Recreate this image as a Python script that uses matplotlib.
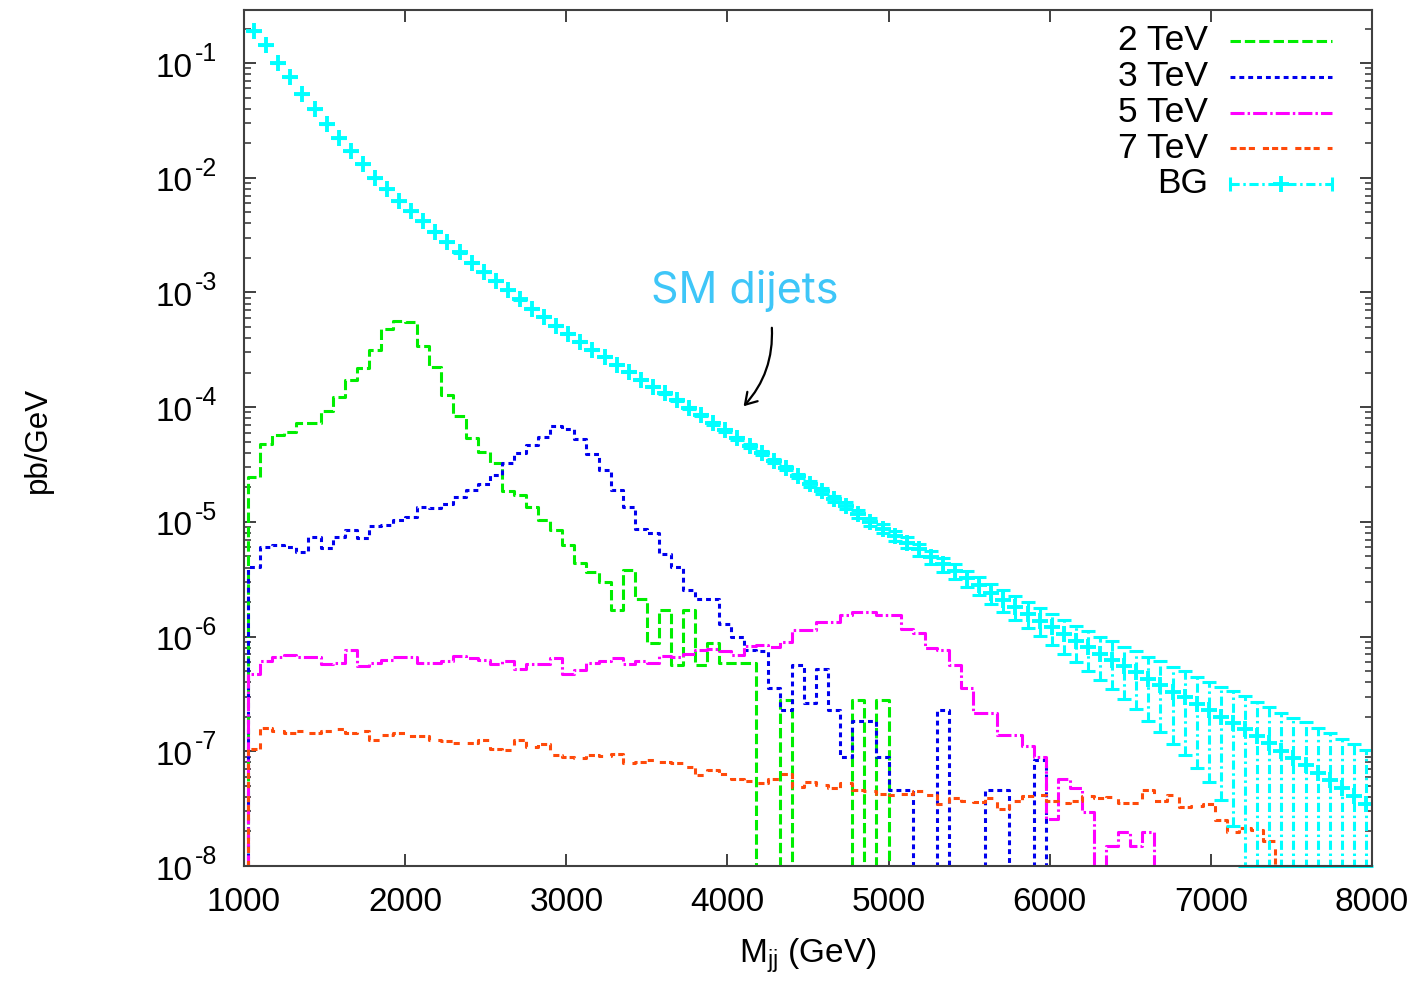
"""Dijet invariant-mass spectra: resonance signals vs. SM QCD background."""

import matplotlib

matplotlib.use("Agg")

import matplotlib.pyplot as plt
import matplotlib.transforms as mtransforms
import numpy as np
from matplotlib.patches import FancyArrowPatch
from matplotlib.ticker import NullFormatter, NullLocator

W, H = 1428, 981

C_GREEN = "#00ee00"
C_BLUE = "#0000ee"
C_MAGENTA = "#ff00ff"
C_ORANGE = "#ff4a0a"
C_CYAN = "#00ffff"
C_NOTE = "#3ec6f8"
C_AXIS = "#404040"

# bin edges of the Mjj histograms (GeV)
EDGES = np.arange(1025, 8001, 75)
X_TICKS = np.arange(1000, 8001, 1000)
Y_DECADES = np.arange(-8, 0)

# log10(pb/GeV) per bin, None = empty bin
SIG_2TEV = [
    -4.61, -4.32, -4.24, -4.22, -4.14, -4.14, -4.03, -3.91, -3.76, -3.66,
    -3.50, -3.32, -3.25, -3.26, -3.47, -3.65, -3.89, -4.08, -4.27, -4.39,
    -4.49, -4.73, -4.77, -4.87, -4.98, -5.07, -5.20, -5.36, -5.44, -5.52,
    -5.77, -5.42, -5.67, -6.06, -5.77, -6.25, -5.77, -6.25, -6.06, -6.23,
    -6.23, -6.23, None, None, -6.55, None, None, None, None, None,
    -6.55, None, -6.55, None, None, None, None, None, None, None,
    None, None, None, None, None, None, None, None, None, None,
    None, None, None, None, None, None, None, None, None, None,
    None, None, None, None, None, None, None, None, None, None,
    None, None, None,
]
SIG_3TEV = [
    -5.39, -5.22, -5.20, -5.22, -5.26, -5.13, -5.23, -5.13, -5.07, -5.14,
    -5.04, -5.03, -4.98, -4.96, -4.87, -4.88, -4.84, -4.78, -4.72, -4.67,
    -4.59, -4.49, -4.40, -4.33, -4.26, -4.16, -4.19, -4.28, -4.41, -4.55,
    -4.72, -4.87, -5.06, -5.10, -5.28, -5.39, -5.59, -5.67, -5.67, -5.89,
    -6.00, -6.12, -6.13, -6.45, -6.64, -6.25, -6.58, -6.28, -6.64, -7.05,
    -6.74, -6.74, -7.05, -7.34, -7.34, None, None, -6.64, None, None,
    None, -7.34, -7.34, None, None, -7.08, None, None, None, None,
    None, None, None, None, None, None, None, None, None, None,
    None, None, None, None, None, None, None, None, None, None,
    None, None, None,
]
SIG_5TEV = [
    -6.33, -6.21, -6.18, -6.16, -6.18, -6.18, -6.24, -6.23, -6.12, -6.26,
    -6.23, -6.20, -6.18, -6.18, -6.23, -6.23, -6.21, -6.17, -6.19, -6.20,
    -6.24, -6.21, -6.28, -6.24, -6.24, -6.19, -6.33, -6.29, -6.23, -6.21,
    -6.19, -6.24, -6.21, -6.23, -6.17, -6.18, -6.15, -6.12, -6.11, -6.13,
    -6.16, -6.08, -6.07, -6.09, -6.05, -5.94, -5.94, -5.87, -5.87, -5.81,
    -5.79, -5.79, -5.81, -5.81, -5.93, -5.97, -6.10, -6.12, -6.25, -6.45,
    -6.67, -6.67, -6.86, -6.86, -6.95, -7.05, -7.59, -7.24, -7.32, -7.53,
    None, -7.83, -7.70, -7.83, -7.70, None, None, None, None, None,
    None, None, None, None, None, None, None, None, None, None,
    None, None, None,
]
SIG_7TEV = [
    -6.98, -6.80, -6.82, -6.84, -6.82, -6.84, -6.82, -6.81, -6.84, -6.82,
    -6.90, -6.86, -6.84, -6.87, -6.87, -6.90, -6.91, -6.93, -6.93, -6.90,
    -6.98, -6.99, -6.90, -6.96, -6.94, -7.03, -7.05, -7.06, -7.03, -7.04,
    -7.02, -7.10, -7.09, -7.08, -7.09, -7.10, -7.14, -7.21, -7.16, -7.20,
    -7.24, -7.26, -7.28, -7.24, -7.20, -7.31, -7.27, -7.29, -7.32, -7.28,
    -7.34, -7.35, -7.37, -7.38, -7.37, -7.35, -7.38, -7.46, -7.41, -7.43,
    -7.44, -7.41, -7.50, -7.43, -7.39, -7.38, -7.43, -7.45, -7.43, -7.39,
    -7.41, -7.40, -7.45, -7.45, -7.34, -7.43, -7.38, -7.49, -7.48, -7.46,
    -7.60, -7.70, -7.67, -7.69, -7.78, None, None, None, None, None,
    None, None, None,
]
BG_LOG10 = [
    -0.72, -0.84, -1.00, -1.12, -1.27, -1.40, -1.53, -1.65, -1.77, -1.88,
    -2.00, -2.10, -2.20, -2.29, -2.38, -2.47, -2.56, -2.65, -2.74, -2.82,
    -2.90, -2.98, -3.06, -3.14, -3.21, -3.29, -3.36, -3.43, -3.50, -3.56,
    -3.63, -3.69, -3.76, -3.82, -3.88, -3.94, -4.01, -4.07, -4.14, -4.20,
    -4.27, -4.34, -4.40, -4.47, -4.53, -4.60, -4.67, -4.73, -4.80, -4.86,
    -4.93, -5.00, -5.06, -5.12, -5.18, -5.24, -5.31, -5.37, -5.43, -5.49,
    -5.55, -5.62, -5.68, -5.74, -5.80, -5.86, -5.92, -5.98, -6.04, -6.09,
    -6.15, -6.20, -6.26, -6.31, -6.37, -6.42, -6.48, -6.53, -6.59, -6.64,
    -6.70, -6.75, -6.81, -6.87, -6.93, -7.00, -7.06, -7.12, -7.19, -7.25,
    -7.32, -7.39, -7.46,
]
# relative statistical error of the background
BG_REL_ERR = [
    0.001, 0.001, 0.001, 0.001, 0.001, 0.002, 0.002, 0.002, 0.002, 0.002,
    0.002, 0.003, 0.003, 0.003, 0.003, 0.004, 0.004, 0.004, 0.005, 0.005,
    0.006, 0.006, 0.007, 0.007, 0.008, 0.009, 0.010, 0.010, 0.011, 0.012,
    0.013, 0.015, 0.016, 0.017, 0.019, 0.021, 0.023, 0.025, 0.027, 0.030,
    0.032, 0.035, 0.038, 0.042, 0.046, 0.049, 0.054, 0.059, 0.065, 0.069,
    0.076, 0.083, 0.090, 0.098, 0.107, 0.117, 0.127, 0.139, 0.151, 0.164,
    0.179, 0.195, 0.212, 0.231, 0.252, 0.273, 0.296, 0.321, 0.348, 0.378,
    0.409, 0.444, 0.481, 0.521, 0.566, 0.614, 0.649, 0.686, 0.724, 0.766,
    0.813, 0.875, 0.942, 1.014, 1.09, 1.17, 1.26, 1.36, 1.46, 1.57,
    1.69, 1.82, 1.96,
]

SERIES = [
    ("2 TeV", SIG_2TEV, C_GREEN, (0, (3.4, 1.3))),
    ("3 TeV", SIG_3TEV, C_BLUE, (0, (1.6, 1.3))),
    ("5 TeV", SIG_5TEV, C_MAGENTA, (0, (4.6, 1.0, 0.8, 1.0))),
    ("7 TeV", SIG_7TEV, C_ORANGE, (0, (2.0, 1.0, 2.0, 1.0, 2.0, 2.6))),
]
BG_DASH = (0, (3.0, 1.2, 0.8, 1.2))

YMIN, YMAX = 1e-8, 0.29
TINY = 1e-20
LW = 2.2

plt.rcParams.update(
    {
        "font.family": ["Liberation Sans", "DejaVu Sans"],
        "font.size": 24,
        "axes.linewidth": 1.5,
        "axes.edgecolor": C_AXIS,
    }
)


def _to_values(log_list):
    return np.array([0.0 if v is None else 10.0 ** v for v in log_list])


def _ax_x(px):
    return (px - 244) / 1128


def _ax_y(py):
    return (866 - py) / 856


fig = plt.figure(figsize=(W / 100, H / 100), dpi=100)
ax = fig.add_axes([244 / W, 1 - 866 / H, 1128 / W, 856 / H])
ax.set_yscale("log")

# signal histograms
for label, logs, color, dash in SERIES:
    vals = _to_values(logs)
    vals = np.where(vals > 0, vals, TINY)
    xs = np.r_[EDGES[0], EDGES]
    ys = np.r_[TINY, vals, TINY]
    ax.plot(xs, ys, drawstyle="steps-post", color=color, lw=LW, ls=dash,
            dash_capstyle="butt")

# background with error bars
centers = 0.5 * (EDGES[:-1] + EDGES[1:])
bg = _to_values(BG_LOG10)
err = bg * np.array(BG_REL_ERR)
hi = bg + err
lo = bg - err
lo_line = np.where(lo > 0, lo, TINY)
lo_cap = np.maximum(lo, YMIN)
ax.vlines(centers, lo_line, hi, colors=C_CYAN, linewidths=LW, linestyles=[BG_DASH])
ax.plot(centers, hi, ls="none", marker="_", ms=10.5, mew=LW, color=C_CYAN)
ax.plot(centers, lo_cap, ls="none", marker="_", ms=10.5, mew=LW, color=C_CYAN,
        clip_on=False)
ax.plot(centers, bg, ls="none", marker="+", ms=11, mew=2.8, color=C_CYAN)

ax.set_xlim(X_TICKS[0], X_TICKS[-1])
ax.set_ylim(YMIN, YMAX)
ax.set_xticks(X_TICKS)
ax.xaxis.set_minor_locator(NullLocator())
ax.yaxis.set_minor_formatter(NullFormatter())
ax.yaxis.set_major_formatter(NullFormatter())
ax.tick_params(which="both", direction="in", top=True, right=True, color=C_AXIS)
ax.tick_params(which="major", length=8.6, width=1.4, pad=10, labelsize=24)
ax.tick_params(which="minor", length=5, width=1.2)
ax.tick_params(axis="x", which="major", pad=15)

# y tick labels written as gnuplot does: "10" with a raised exponent
ylab = mtransforms.blended_transform_factory(ax.transAxes, ax.transData)
base_tr = mtransforms.offset_copy(ylab, fig=fig, x=0, y=-5, units="dots")
exp_tr = mtransforms.offset_copy(ylab, fig=fig, x=0, y=9, units="dots")
for d in Y_DECADES:
    ax.text(_ax_x(193), 10.0 ** d, "10", transform=base_tr, ha="right",
            va="center", fontsize=24)
    ax.text(_ax_x(195), 10.0 ** d, f"-{abs(d)}", transform=exp_tr, ha="left",
            va="center", fontsize=18)

# legend, drawn by hand to mimic the gnuplot key
key_y = [41, 76.5, 112.5, 148, 183.5]
x0, x1 = _ax_x(1230), _ax_x(1332)
for (label, _, color, dash), py in zip(SERIES, key_y):
    y = _ax_y(py)
    ax.text(_ax_x(1208), y, label, transform=ax.transAxes, ha="right",
            va="center", fontsize=25.5)
    ax.plot([x0, x1], [y, y], transform=ax.transAxes, color=color, lw=LW,
            ls=dash, dash_capstyle="butt")
y = _ax_y(key_y[-1])
ax.text(_ax_x(1208), y, "BG", transform=ax.transAxes, ha="right", va="center",
        fontsize=25.5)
ax.plot([x0, x1], [y, y], transform=ax.transAxes, color=C_CYAN, lw=LW,
        ls=BG_DASH)
ax.plot([x0, x1], [y, y], transform=ax.transAxes, ls="none", marker="|",
        ms=10, mew=LW, color=C_CYAN)
ax.plot([(x0 + x1) / 2], [y], transform=ax.transAxes, ls="none", marker="+",
        ms=11, mew=2.8, color=C_CYAN)

fig.text(38 / W, 1 - 440 / H, "pb/GeV", rotation=90, ha="center", va="center",
         fontsize=22.5)
fig.text(808 / W, 1 - 956 / H, r"$\mathdefault{M_{jj}}$ (GeV)", ha="center",
         va="center", fontsize=24)

# hand-drawn style note
fig.text(745 / W, 1 - 291 / H, "SM dijets", ha="center", va="center",
         fontsize=31, color=C_NOTE, family=["Inter", "DejaVu Sans"])
arrow = FancyArrowPatch(
    (771.7 / W, 1 - 325 / H), (741.7 / W, 1 - 408.3 / H),
    transform=fig.transFigure, arrowstyle="->,head_length=8,head_width=5",
    connectionstyle="arc3,rad=-0.22", color="black", lw=1.6,
)
fig.add_artist(arrow)

fig.savefig("out.png", dpi=100, facecolor="white")
